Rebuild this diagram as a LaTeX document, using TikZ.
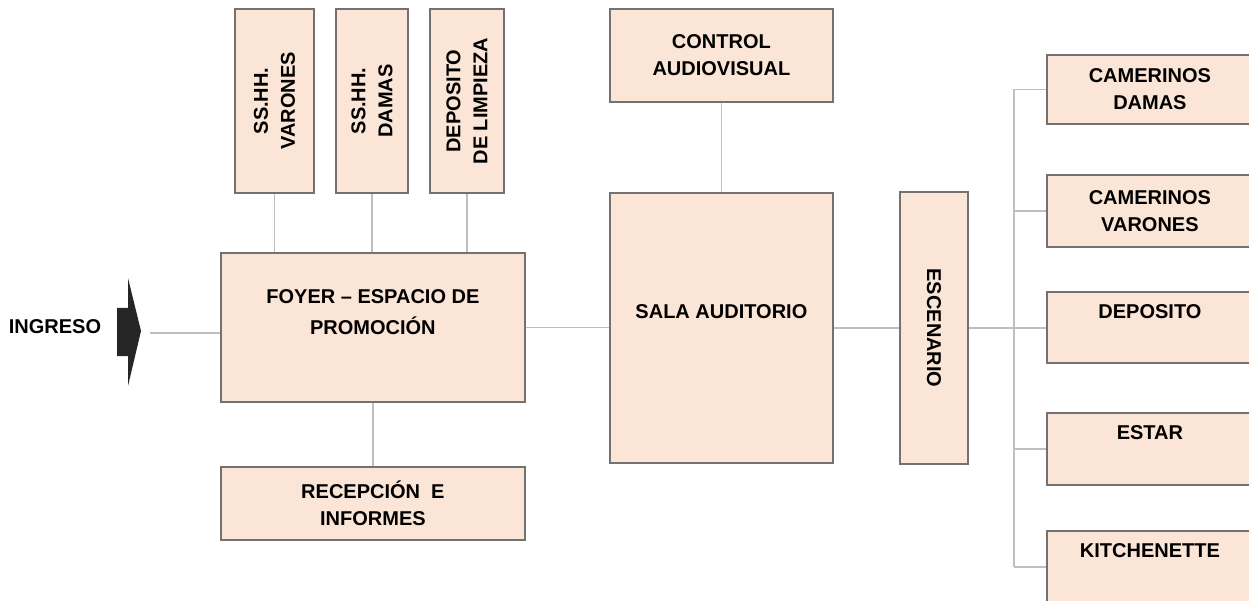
\documentclass[tikz,border=0pt]{standalone}
\usepackage{fontspec}
\setmainfont{Liberation Sans}
\usetikzlibrary{positioning}
\definecolor{roomfill}{HTML}{FBE5D6}
\definecolor{roomline}{HTML}{767171}
\definecolor{linkgray}{HTML}{BFBFBF}
\definecolor{arrowdark}{HTML}{262626}

\begin{document}
\begin{tikzpicture}[
    x=1pt, y=-1pt,
    room/.style={rectangle, draw=roomline, fill=roomfill, line width=1.8pt,
                 font=\fontsize{20}{27}\selectfont\bfseries, align=center,
                 inner sep=0pt, anchor=north west},
    roomtop/.style={room, text height=14.5pt, text depth=32.5pt},
    roomup/.style={room, anchor=center, rotate=90,
                   minimum width=184pt, minimum height=76pt},
    link/.style={draw=linkgray, line width=1.6pt},
    node distance=63pt and 22pt
  ]
    \useasboundingbox (0,0) rectangle (1249,601);

    % entrance
    \node[font=\fontsize{20}{24}\selectfont\bfseries] (ingreso) at (55,327) {INGRESO};
    \fill[arrowdark] (117,308) -- (128,308) -- (128,278) -- (141,331)
                  -- (128,386) -- (128,356) -- (117,356) -- cycle;
    \coordinate (ingresoend) at (150,333);

    % foyer block
    \node[room, minimum width=304pt, minimum height=149pt, text depth=30pt,
          font=\fontsize{20}{31}\selectfont\bfseries]
         (foyer) at (220,252) {FOYER – ESPACIO DE\\PROMOCIÓN};
    \node[room, minimum width=304pt, minimum height=73pt, below=of foyer]
         (recepcion) {RECEPCIÓN\ \ E\\INFORMES};
    \node[roomup, minimum height=79pt] (ssvarones) at (274.5,101) {SS.HH.\\VARONES};
    \node[roomup, minimum height=72pt] (ssdamas)   at (372,101)   {SS.HH.\\DAMAS};
    \node[roomup, minimum height=74pt] (limpieza)  at (467,101)   {DEPOSITO\\DE LIMPIEZA};

    % hall
    \node[roomtop, minimum width=223pt, minimum height=270pt] (sala) at (609,192) {SALA AUDITORIO};
    \node[room, minimum width=223pt, minimum height=93pt, above=89pt of sala]
         (control) {CONTROL\\AUDIOVISUAL};
    \node[room, anchor=center, rotate=-90, minimum width=272pt, minimum height=68pt]
         (escenario) at (934,328) {ESCENARIO};

    % back stage
    \node[room, minimum width=206pt, minimum height=69pt] (camdamas)   at (1046,54)  {CAMERINOS\\DAMAS};
    \node[room, minimum width=206pt, minimum height=72pt] (camvarones) at (1046,174) {CAMERINOS\\VARONES};
    \node[roomtop, minimum width=206pt, minimum height=71pt] (deposito) at (1046,291) {DEPOSITO};
    \node[roomtop, minimum width=206pt, minimum height=72pt] (estar)    at (1046,412) {ESTAR};
    \node[roomtop, minimum width=206pt, minimum height=72pt] (kitchen)  at (1046,530) {KITCHENETTE};
    \coordinate (trunk) at (1014,0);

    % links
    \draw[link] (ingresoend) -- (ingresoend -| foyer.west);
    \foreach \n in {ssvarones,ssdamas,limpieza}
      \draw[link] (\n.west) -- (\n.west |- foyer.north);
    \draw[link] (foyer) -- (recepcion);
    \draw[link] (foyer.east) -- (foyer.east -| sala.west);
    \draw[link] (control) -- (sala);
    \draw[link] (sala.east) -- (sala.east -| escenario.south);
    \draw[link] (escenario.north) -- (escenario.north -| deposito.west);
    \draw[link] (camdamas.west -| trunk) -- (kitchen.west -| trunk);
    \foreach \n in {camdamas,camvarones,estar,kitchen}
      \draw[link] (\n.west -| trunk) -- (\n.west);
\end{tikzpicture}
\end{document}
